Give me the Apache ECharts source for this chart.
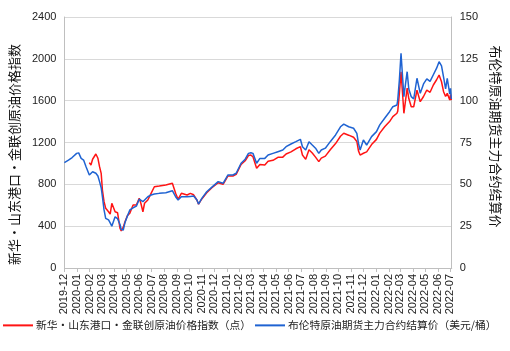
<!DOCTYPE html>
<html>
<head>
<meta charset="utf-8">
<script src="https://cdn.jsdelivr.net/npm/echarts@6/dist/echarts.min.js"></script>
<style>
  html, body { margin: 0; padding: 0; background: #fff; }
  #chart { width: 510px; height: 351px; }
</style>
</head>
<body>
<div id="chart"></div>
<script>
// dates shared by both series (roughly weekly)
const dates = [
  '2019-12-01', '2019-12-11', '2019-12-20', '2019-12-31', '2020-01-05', '2020-01-11', '2020-01-17', '2020-01-23',
  '2020-01-31', '2020-02-04', '2020-02-08', '2020-02-16', '2020-02-21', '2020-02-25', '2020-02-29', '2020-03-03',
  '2020-03-07', '2020-03-11', '2020-03-18', '2020-03-22', '2020-03-26', '2020-04-03', '2020-04-09', '2020-04-15',
  '2020-04-18', '2020-04-23', '2020-04-27', '2020-05-03', '2020-05-09', '2020-05-17', '2020-05-25', '2020-06-01',
  '2020-06-05', '2020-06-10', '2020-06-14', '2020-06-22', '2020-06-30', '2020-07-08', '2020-07-20', '2020-08-05',
  '2020-08-21', '2020-08-25', '2020-08-29', '2020-09-04', '2020-09-12', '2020-09-26', '2020-10-04', '2020-10-12',
  '2020-10-20', '2020-10-24', '2020-11-01', '2020-11-13', '2020-11-25', '2020-12-11', '2020-12-23', '2021-01-04',
  '2021-01-16', '2021-01-24', '2021-02-05', '2021-02-15', '2021-02-23', '2021-03-01', '2021-03-06', '2021-03-15',
  '2021-03-23', '2021-04-04', '2021-04-12', '2021-04-24', '2021-05-06', '2021-05-18', '2021-05-26', '2021-06-07',
  '2021-06-19', '2021-06-30', '2021-07-05', '2021-07-13', '2021-07-21', '2021-07-29', '2021-08-06', '2021-08-14',
  '2021-08-20', '2021-08-30', '2021-09-11', '2021-09-24', '2021-10-06', '2021-10-14', '2021-10-26', '2021-11-07',
  '2021-11-15', '2021-11-19', '2021-11-23', '2021-12-01', '2021-12-09', '2021-12-21', '2022-01-02', '2022-01-10',
  '2022-01-22', '2022-02-03', '2022-02-11', '2022-02-21', '2022-02-23', '2022-02-27', '2022-03-03', '2022-03-07',
  '2022-03-10', '2022-03-14', '2022-03-18', '2022-03-22', '2022-03-28', '2022-04-03', '2022-04-11', '2022-04-19',
  '2022-04-27', '2022-05-05', '2022-05-13', '2022-05-21', '2022-05-29', '2022-06-04', '2022-06-10', '2022-06-15',
  '2022-06-20', '2022-06-24', '2022-06-30', '2022-07-02', '2022-07-04'
]

// 新华・山东港口・金联创原油价格指数（点） - left axis
const indexValues = [
  null, null, null, null, null, null, null, null,
  1007, 985, 1040, 1090, 1049, 969, 905, 746,
  634, 571, 538, 516, 619, 538, 529, 380,
  354, 390, 440, 500, 523, 602, 602, 666,
  619, 538, 619, 650, 714, 777, 784, 794,
  810, 794, 714, 657, 714, 698, 714, 700,
  650, 610, 660, 720, 765, 815, 800, 880,
  880, 895, 990, 1025, 1075, 1080, 1064, 953,
  990, 985, 1020, 1030, 1058, 1060, 1090, 1110,
  1140, 1160, 1080, 1039, 1130, 1100, 1060, 1017,
  1050, 1070, 1130, 1190, 1260, 1288, 1270, 1250,
  1210, 1120, 1080, 1097, 1110, 1180, 1230, 1290,
  1350, 1400, 1447, 1480, 1500, 1670, 1877, 1654,
  1479, 1600, 1720, 1620, 1542, 1542, 1700, 1590,
  1640, 1702, 1680, 1750, 1800, 1845, 1781, 1686,
  1640, 1670, 1606, 1660, 1606
]

// 布伦特原油期货主力合约结算价（美元/桶） - right axis
const brentValues = [
  63, 64.5, 66, 68.5, 68.8, 65.5, 64.5, 60.5,
  55.6, 55, 57.5, 56.6, 55, 51.6, 48, 42.6,
  34.7, 29.7, 28.7, 27, 25, 30.6, 29.5, 26,
  23, 22.7, 27, 31, 34.7, 36, 37, 41.1,
  40.5, 39.6, 40.5, 42.6, 43.6, 44.2, 44.6, 45,
  46.2, 45.5, 42.6, 40.6, 42.6, 42.6, 42.8, 43,
  40.6, 38.2, 41.6, 45.6, 48.2, 51.6, 50.6, 55.6,
  55.6, 56.6, 62.6, 65, 68.5, 68.9, 68.5, 62.6,
  65.5, 65.5, 67.5, 68.5, 69.5, 70.5, 72.5, 74.1,
  75.5, 76.9, 72.5, 70.5, 75.5, 73.5, 71.6, 68.5,
  70.5, 71.6, 75.5, 79.5, 84.4, 86, 84.4, 83.5,
  80.5, 74.5, 70.5, 76.5, 73.5, 78.5, 81.5, 85.5,
  89.5, 93.4, 96.4, 97.4, 100.4, 112.4, 128.3, 113.4,
  102.4, 110, 117.3, 107, 102.4, 101, 113.4, 104.4,
  110, 113, 111.5, 115.5, 119.4, 123.3, 120.8, 114,
  107, 113.4, 104, 107.4, 101
]

const seriesNames = [
  '新华・山东港口・金联创原油价格指数（点）',
  '布伦特原油期货主力合约结算价（美元/桶）'
]
const leftAxisName = '新华・山东港口・金联创原油价格指数'
const rightAxisName = '布伦特原油期货主力合约结算价'

const FONT = 'Liberation Sans, Noto Sans CJK SC, sans-serif'
const CJK = 'Noto Sans CJK SC, sans-serif'
const DAY = 24 * 3600 * 1000

const chart = echarts.init(document.getElementById('chart'), null, { renderer: 'canvas' })

const pad = n => (n < 10 ? '0' : '') + n

chart.setOption({
  animation: false,
  backgroundColor: '#fff',
  grid: { left: 63, right: 50, top: 17, bottom: 83, containLabel: false },
  legend: {
    left: 3,
    top: 320,
    width: 507,
    padding: 0,
    icon: 'rect',
    itemWidth: 30,
    itemHeight: 2,
    itemGap: 4,
    textStyle: { fontFamily: CJK, fontSize: 10.75, color: '#222', padding: [0, 0, 0, -2] },
    data: seriesNames
  },
  xAxis: {
    type: 'time',
    min: '2019-12-01',
    max: '2022-07-05',
    splitNumber: 32,
    minInterval: 28 * DAY,
    maxInterval: 31 * DAY,
    axisLine: { lineStyle: { color: '#bfbfbf' } },
    axisTick: { show: true, length: 4, lineStyle: { color: '#bfbfbf' } },
    splitLine: { show: false },
    axisLabel: {
      rotate: 90,
      fontFamily: FONT,
      fontSize: 11,
      color: '#222',
      margin: 6,
      hideOverlap: false,
      formatter: v => {
        const d = new Date(v)
        return d.getFullYear() + '-' + pad(d.getMonth() + 1)
      }
    }
  },
  yAxis: [
    {
      type: 'value',
      min: 0,
      max: 2400,
      interval: 400,
      name: leftAxisName,
      nameLocation: 'middle',
      nameRotate: 90,
      nameGap: 40,
      nameTextStyle: { fontFamily: CJK, fontSize: 13, color: '#111', padding: [0, 24, 0, 0] },
      axisLine: { show: true, lineStyle: { color: '#bfbfbf' } },
      axisTick: { show: false },
      axisLabel: { fontFamily: FONT, fontSize: 11, color: '#222', margin: 8, formatter: v => String(v) },
      splitLine: { lineStyle: { color: '#d9d9d9' } }
    },
    {
      type: 'value',
      min: 0,
      max: 150,
      interval: 25,
      name: rightAxisName,
      nameLocation: 'middle',
      nameRotate: -90,
      nameGap: 33,
      nameTextStyle: { fontFamily: CJK, fontSize: 13, color: '#111', padding: [0, 12, 0, 0] },
      axisLine: { show: true, lineStyle: { color: '#bfbfbf' } },
      axisTick: { show: false },
      axisLabel: { fontFamily: FONT, fontSize: 11, color: '#222', margin: 8, formatter: v => String(v) },
      splitLine: { show: false }
    }
  ],
  series: [
    {
      name: seriesNames[0],
      type: 'line',
      yAxisIndex: 0,
      data: dates.map((d, i) => [d, indexValues[i]]),
      symbol: 'none',
      connectNulls: false,
      lineStyle: { color: '#ff1414', width: 1.5 },
      itemStyle: { color: '#ff1414' },
      z: 2
    },
    {
      name: seriesNames[1],
      type: 'line',
      yAxisIndex: 1,
      data: dates.map((d, i) => [d, brentValues[i]]),
      symbol: 'none',
      lineStyle: { color: '#1f63d2', width: 1.5 },
      itemStyle: { color: '#1f63d2' },
      z: 3
    }
  ]
})
</script>
</body>
</html>
